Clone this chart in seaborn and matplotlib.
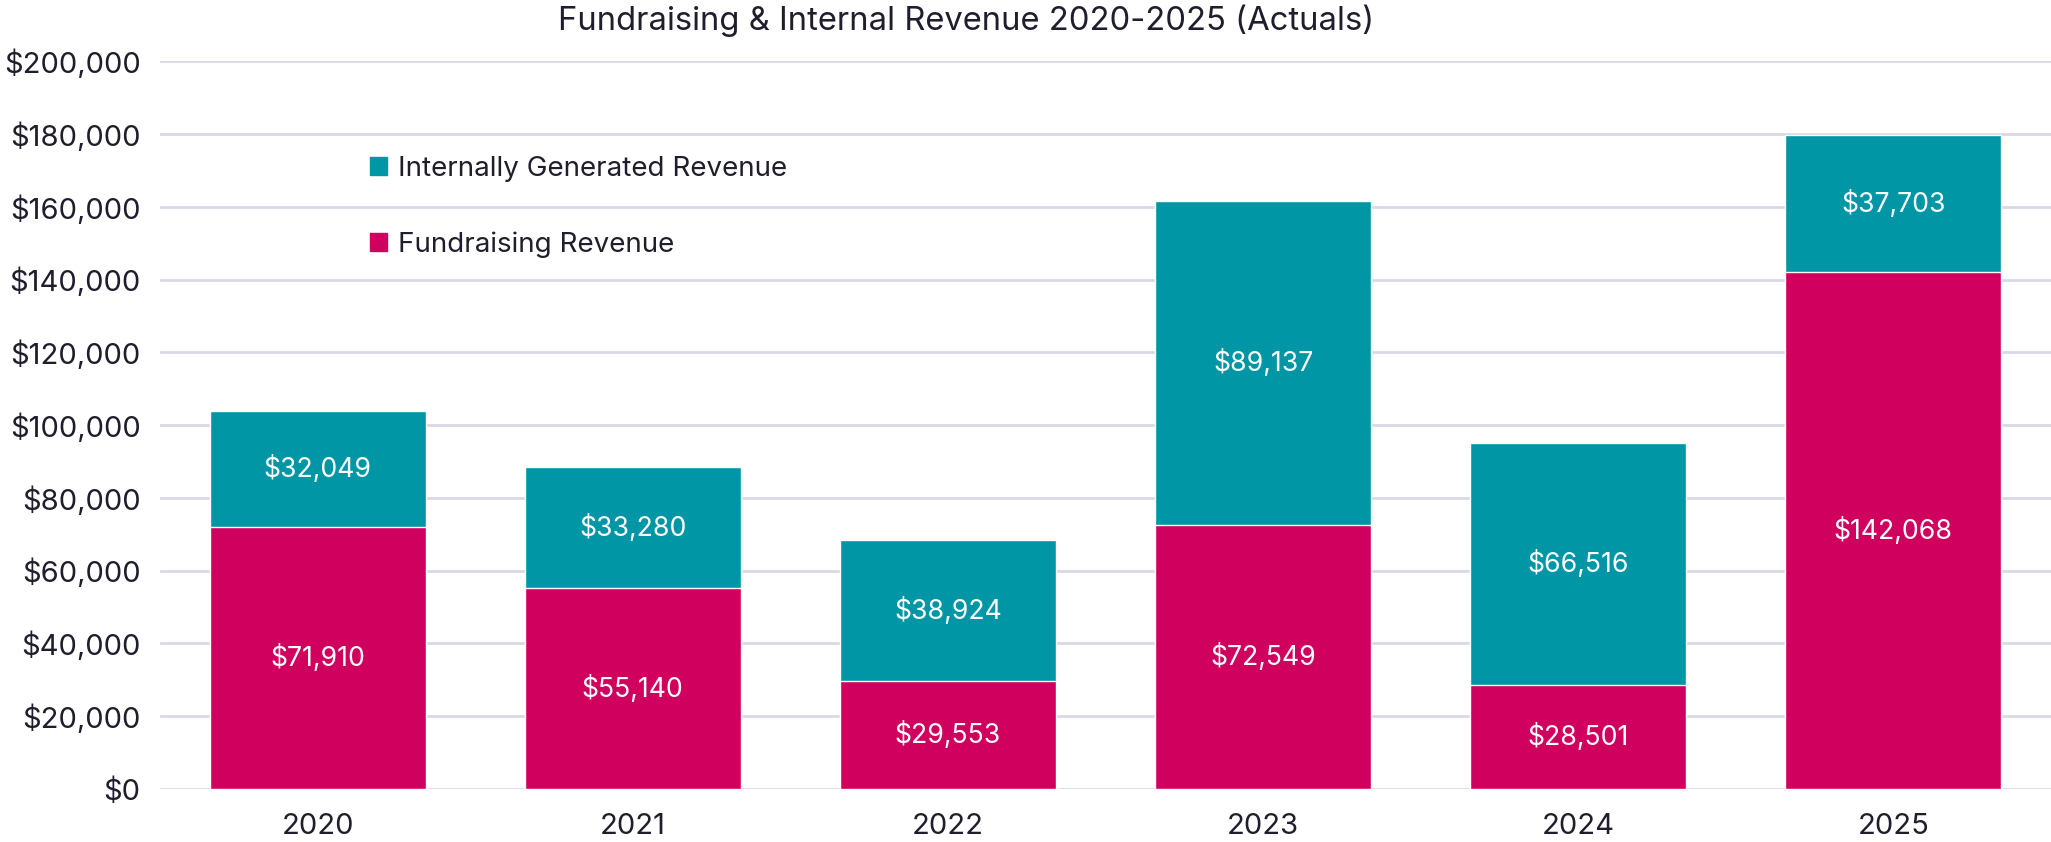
import pandas as pd
import seaborn as sns
import matplotlib.pyplot as plt
from matplotlib.patches import Patch

#chart data
years = ['2020', '2021', '2022', '2023', '2024', '2025']
fundraising = [71910, 55140, 29553, 72549, 28501, 142068]
internal = [32049, 33280, 38924, 89137, 66516, 37703]

teal = '#0096A6'
magenta = '#D0005F'
text_col = '#1E1E2C'

df = pd.DataFrame({'year': years, 'fundraising': fundraising, 'internal': internal})
df['total'] = df['fundraising'] + df['internal']

sns.set_style('white')
plt.rcParams['font.family'] = ['Inter', 'DejaVu Sans']
plt.rcParams['font.weight'] = 'normal'

fig = plt.figure(figsize=(20.51, 8.42), dpi=100)
ax = fig.add_axes([0.078, 0.063, 0.922, 0.864])

#stacked bars: total in teal, fundraising drawn over it
sns.barplot(data=df, x='year', y='total', color=teal, width=0.685, saturation=1, ax=ax, zorder=3)
sns.barplot(data=df, x='year', y='fundraising', color=magenta, width=0.685, saturation=1, ax=ax, zorder=3)

#segment labels
for i, row in df.iterrows():
    ax.text(i, row['fundraising'] / 2, f"${row['fundraising']:,}", ha='center', va='center',
            color='white', fontsize=19.2, zorder=4)
    ax.text(i, row['fundraising'] + row['internal'] / 2, f"${row['internal']:,}", ha='center',
            va='center', color='white', fontsize=19.2, zorder=4)

ax.set_ylim(0, 200000)
ax.set_xlim(-0.5, 5.5)
ax.set_yticks(range(0, 200001, 20000))
ax.set_yticklabels([f'${v:,}' for v in range(0, 200001, 20000)])
ax.yaxis.grid(True, color='#DAD8E6', linewidth=2, zorder=0)
ax.set_axisbelow(True)
ax.tick_params(axis='both', length=0, labelsize=21, colors=text_col)
ax.tick_params(axis='y', pad=14)
ax.tick_params(axis='x', pad=17)
ax.set_xlabel('')
ax.set_ylabel('')
sns.despine(ax=ax, left=True, bottom=True)

handles = [Patch(color=teal, label='Internally Generated Revenue'),
           Patch(color=magenta, label='Fundraising Revenue')]
leg = ax.legend(handles=handles, loc='upper left', bbox_to_anchor=(0.098, 0.905), frameon=False,
                fontsize=20, labelspacing=1.8, handlelength=0.6, handleheight=0.6,
                handletextpad=0.4, labelcolor=text_col)

fig.text(0.471, 0.975, 'Fundraising & Internal Revenue 2020-2025 (Actuals)', ha='center', va='center',
         fontsize=23.6, color=text_col)

fig.savefig('out.png', dpi=100)
